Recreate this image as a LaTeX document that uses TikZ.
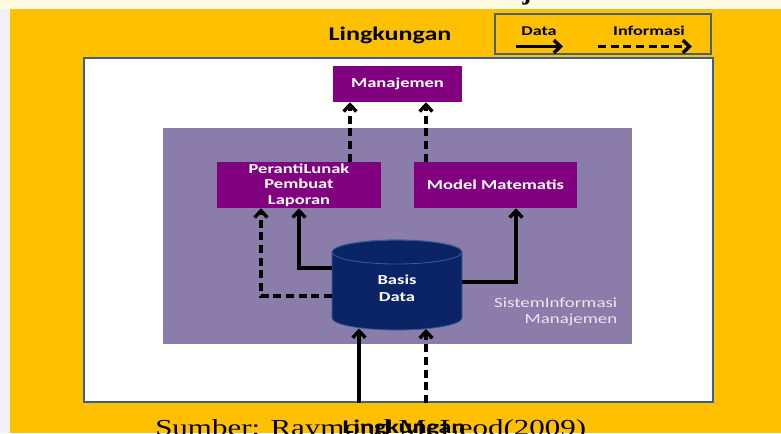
\documentclass[tikz,border=0pt]{standalone}
\usepackage{fontspec}
\setmainfont{Carlito}
\newfontfamily\timesf{Liberation Serif}
\usetikzlibrary{arrows.meta,calc}
\definecolor{orng}{HTML}{FFC000}
\definecolor{topc}{HTML}{FDFBE2}
\definecolor{leftc}{HTML}{F3F1F7}
\definecolor{envblue}{HTML}{3D5F8C}
\definecolor{legc}{HTML}{46627C}
\definecolor{simbg}{HTML}{8A7DA9}
\definecolor{boxp}{HTML}{800080}
\definecolor{navy}{HTML}{0A2466}
\definecolor{navyedge}{HTML}{3A5C9A}
\definecolor{simtxt}{HTML}{ECE6F4}
\newcommand{\hs}[1]{\scalebox{1.35}[1]{#1}}
\begin{document}
\begin{tikzpicture}[x=0.75pt,y=-0.75pt,
  pbox/.style={fill=boxp, draw=none, text=white, inner sep=0pt, align=center,
    font=\fontsize{10.3}{11.8}\selectfont\bfseries},
  data/.style={line width=2.6pt, -{Straight Barb[length=5pt,width=9.5pt]}},
  info/.style={data, dash pattern=on 6pt off 3.5pt},
]
\useasboundingbox (0,0) rectangle (781,433);
\clip (0,0) rectangle (781,433);
\fill[leftc] (0,0) rectangle (781,433);
\fill[topc] (0,0) rectangle (781,9);
\fill[orng] (10,9) rectangle (781,433);
\node[anchor=base, font=\timesf\bfseries\fontsize{20}{24}\selectfont] (jfrag) at (527,-1) {j};

% heading and legend
\node[anchor=base, font=\fontsize{14.5}{17}\selectfont\bfseries] (ling) at (390,40.7) {\hs{Lingkungan}};
\node[draw=legc, line width=1.5pt, minimum width=162pt, minimum height=30pt, inner sep=0pt] (leg) at (603,34) {};
\node[anchor=base, font=\fontsize{10.1}{12}\selectfont\bfseries] (ldata) at (539,35) {\hs{Data}};
\node[anchor=base, font=\fontsize{10.1}{12}\selectfont\bfseries] (linfo) at (649,35) {\hs{Informasi}};
\coordinate (la1) at (516,46.5);
\coordinate (la2) at (563,46.5);
\coordinate (lb1) at (598,46.5);
\coordinate (lb2) at (692,46.5);
\draw[data] (la1) -- (la2);
\draw[info] (lb1) -- (lb2);

% environment box
\node[draw=envblue, fill=white, line width=1.5pt, minimum width=471.75pt, minimum height=258pt, inner sep=0pt] (env) at (398.5,230) {};

% SIM background
\node[fill=simbg, minimum width=351.75pt, minimum height=162pt, inner sep=0pt] (sim) at (397,235.5) {};
\node[anchor=east, align=right, text=simtxt, font=\fontsize{10.5}{11.5}\selectfont] (simlbl) at (622,312) {\hs{SistemInformasi}\\\hs{Manajemen}};

% boxes
\node[pbox, minimum width=96.75pt, minimum height=27pt] (man) at (397.5,84) {\hs{Manajemen}};
\node[pbox, minimum width=123pt, minimum height=34.5pt] (pl) at (299,185) {\hs{PerantiLunak}\\\hs{Pembuat}\\\hs{Laporan}};
\node[pbox, minimum width=122.25pt, minimum height=34.5pt] (mm) at (495.5,185) {\hs{Model Matematis}};

% database cylinder
\fill[navy, draw=navyedge, line width=0.6pt] (332,252) -- (332,318)
  arc[start angle=180, end angle=360, x radius=48.75pt, y radius=9pt]
  -- (462,252)
  arc[start angle=0, end angle=180, x radius=48.75pt, y radius=9pt] -- cycle;
\draw[navyedge, line width=0.6pt] (397,252) ellipse [x radius=48.75pt, y radius=9pt];
\node[text=white, align=center, inner sep=0pt, minimum width=97.5pt, minimum height=67.5pt,
  font=\fontsize{10.3}{12.6}\selectfont\bfseries] (db) at (397,288) {\hs{Basis}\\\hs{Data}};

% connectors
\coordinate (c1) at (332,268);
\coordinate (c2) at (332,296);
\coordinate (c3) at (462,282);
\draw[data] (c1) -| (pl.south);
\draw[info] (c2) -| ($(pl.south)+(-38,0)$);
\draw[data] (c3) -| ($(mm.south)+(20.5,0)$);
\draw[info] ($(pl.north)+(51,0)$) coordinate (u1) -- (u1 |- man.south);
\draw[info] ($(mm.north)+(-69.5,0)$) coordinate (u2) -- (u2 |- man.south);
\coordinate (b1) at (359,328.5);
\coordinate (b2) at (426,329);
\draw[data] (b1 |- env.south) -- (b1);
\draw[info] (b2 |- env.south) -- (b2);

% bottom texts
\node[anchor=base west, inner sep=0pt, font=\timesf\fontsize{17.2}{20}\selectfont] (src) at (155,435) {\hs{Sumber: Raymond McLeod(2009)}};
\node[anchor=base, inner sep=0pt, font=\fontsize{14.5}{17}\selectfont\bfseries] (ling2) at (404,433) {\hs{Lingkungan}};
\end{tikzpicture}
\end{document}
